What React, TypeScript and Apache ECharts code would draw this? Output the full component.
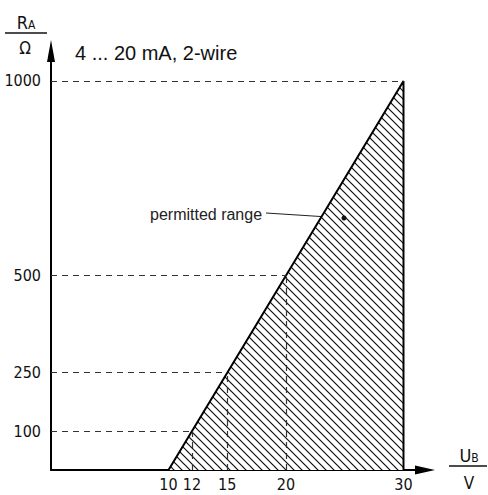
import React, { useEffect, useRef } from 'react';
import * as echarts from 'echarts';

// Data (U_B in V, R_A in Ohm)
const xTicks = [10, 12, 15, 20, 30];
const yTicks = [100, 250, 500, 1000];
const boundaryU = [10, 30, 30];
const boundaryR = [0, 1000, 0];
const guideU = [12, 15, 20, 30];
const guideR = [100, 250, 500, 1000];
const X_MAX = 31.83;
const Y_MAX = 1077;

const narrow = '"Liberation Sans Narrow", "DejaVu Sans Condensed", "Arial Narrow", "Liberation Sans", sans-serif';
const sans = '"Liberation Sans", Arial, Helvetica, sans-serif';

function makeHatch() {
  const s = 8;
  const c = document.createElement('canvas');
  c.width = s;
  c.height = s;
  const ctx = c.getContext('2d');
  if (ctx) {
    ctx.fillStyle = '#ffffff';
    ctx.fillRect(0, 0, s, s);
    ctx.strokeStyle = '#111111';
    ctx.lineWidth = 1.2;
    for (const off of [-s, 0, s]) {
      ctx.beginPath();
      ctx.moveTo(off - 1, -1);
      ctx.lineTo(off + s + 1, s + 1);
      ctx.stroke();
    }
  }
  return c;
}

export default function App() {
  const ref = useRef<HTMLDivElement>(null);
  useEffect(() => {
    if (!ref.current) return;
    const chart = echarts.init(ref.current, undefined, { renderer: 'svg' });
    const boundary = boundaryU.map((u, i) => [u, boundaryR[i]]);
    const guides: any[] = [];
    guideU.forEach((u, i) => {
      const r = guideR[i];
      guides.push([{ coord: [0, r] }, { coord: [u, r] }]);
      if (u < 30) guides.push([{ coord: [u, 0] }, { coord: [u, r] }]);
    });
    const labelStyle = {
      color: '#111',
      fontSize: 16,
      fontFamily: narrow,
      hideOverlap: false,
      formatter: (v: number) => String(v),
    };
    chart.setOption({
      animation: false,
      backgroundColor: '#ffffff',
      grid: { left: 51, top: 51, right: 63, bottom: 25, containLabel: false },
      xAxis: {
        type: 'value',
        min: 0,
        max: X_MAX,
        axisLine: {
          show: true,
          onZero: false,
          lineStyle: { color: '#000', width: 2 },
          symbol: ['none', 'triangle'],
          symbolSize: [9, 20],
        },
        axisTick: { show: false },
        splitLine: { show: false },
        axisLabel: { ...labelStyle, customValues: xTicks, margin: 6, showMinLabel: true, showMaxLabel: true },
      },
      yAxis: {
        type: 'value',
        min: 0,
        max: Y_MAX,
        axisLine: {
          show: true,
          onZero: false,
          lineStyle: { color: '#000', width: 2 },
          symbol: ['none', 'triangle'],
          symbolSize: [8, 22],
        },
        axisTick: { show: false },
        splitLine: { show: false },
        axisLabel: { ...labelStyle, customValues: yTicks, margin: 10 },
      },
      series: [
        {
          type: 'line',
          data: boundary,
          symbol: 'none',
          lineStyle: { color: '#000', width: 2 },
          areaStyle: { color: { image: makeHatch(), repeat: 'repeat' }, opacity: 1 },
          z: 2,
          markLine: {
            silent: true,
            symbol: 'none',
            label: { show: false },
            lineStyle: { color: '#333', width: 1.2, type: [6, 5] },
            data: guides,
          },
        },
      ],
      graphic: [
        {
          type: 'text',
          left: 75,
          top: 43,
          style: { text: '4 ... 20 mA, 2-wire', fontSize: 20, fontFamily: sans, fill: '#111' },
        },
        {
          type: 'text',
          x: 26,
          y: 31,
          style: {
            text: '{a|R}{b|A}',
            align: 'center',
            verticalAlign: 'bottom',
            rich: {
              a: { fontSize: 18, fontFamily: narrow, fill: '#111', verticalAlign: 'bottom' },
              b: { fontSize: 12, fontFamily: narrow, fill: '#111', verticalAlign: 'bottom' },
            },
          },
        },
        { type: 'line', shape: { x1: 5, y1: 33, x2: 47, y2: 33 }, style: { stroke: '#111', lineWidth: 1.5 } },
        {
          type: 'text',
          x: 25,
          y: 48,
          style: { text: 'Ω', align: 'center', verticalAlign: 'middle', fontSize: 17, fontFamily: narrow, fill: '#111' },
        },
        {
          type: 'text',
          x: 469,
          y: 464,
          style: {
            text: '{a|U}{b|B}',
            align: 'center',
            verticalAlign: 'bottom',
            rich: {
              a: { fontSize: 18, fontFamily: narrow, fill: '#111', verticalAlign: 'bottom' },
              b: { fontSize: 12, fontFamily: narrow, fill: '#111', verticalAlign: 'bottom' },
            },
          },
        },
        { type: 'line', shape: { x1: 449, y1: 466, x2: 487, y2: 466 }, style: { stroke: '#111', lineWidth: 1.5 } },
        {
          type: 'text',
          x: 469,
          y: 483,
          style: { text: 'V', align: 'center', verticalAlign: 'middle', fontSize: 17, fontFamily: narrow, fill: '#111' },
        },
        {
          type: 'text',
          x: 150,
          y: 214,
          style: { text: 'permitted range', verticalAlign: 'middle', fontSize: 16, fontFamily: sans, fill: '#222' },
        },
        { type: 'line', shape: { x1: 266, y1: 213, x2: 344, y2: 218 }, style: { stroke: '#222', lineWidth: 1.2 } },
        { type: 'circle', shape: { cx: 344, cy: 218, r: 2.5 }, style: { fill: '#111' }, z: 10 },
      ],
    });
    return () => chart.dispose();
  }, []);
  return <div ref={ref} style={{ position: 'absolute', left: 0, top: 0, width: 488, height: 495 }} />;
}
